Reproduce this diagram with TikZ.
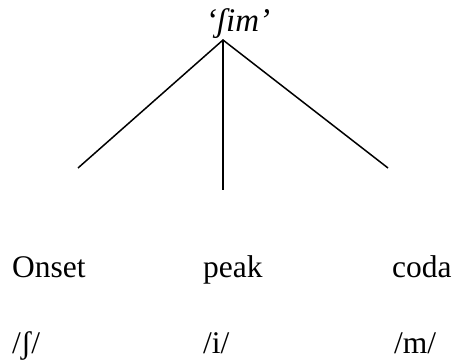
\documentclass[tikz,border=0pt]{standalone}
\usepackage{fontspec}
\setmainfont{Liberation Serif}
\begin{document}
\begin{tikzpicture}[x=1pt,y=-1pt,
  lbl/.style={anchor=base west,inner sep=0pt,font=\fontsize{31.5}{36}\selectfont},
  branch/.style={line width=1.5pt}]
\useasboundingbox (0,0) rectangle (457,363);
\node[lbl,anchor=base,font=\fontsize{33}{38}\selectfont] (word) at (238,32) {\itshape ‘ʃim’};
\coordinate (apex) at (223,40);
\coordinate (lend) at (78,168);
\coordinate (mend) at (223,190);
\coordinate (rend) at (388,168);
\draw[branch] (lend) -- (apex) -- (rend);
\draw[branch] (apex) -- (mend);
\node[lbl] (onset) at (12,277) {Onset};
\node[lbl] (peak) at (203,277) {peak};
\node[lbl] (coda) at (392,277) {coda};
\node[lbl] (sh) at (12,353) {/ʃ/};
\node[lbl] (i) at (203,353) {/i/};
\node[lbl] (m) at (394,353) {/m/};
\end{tikzpicture}
\end{document}
